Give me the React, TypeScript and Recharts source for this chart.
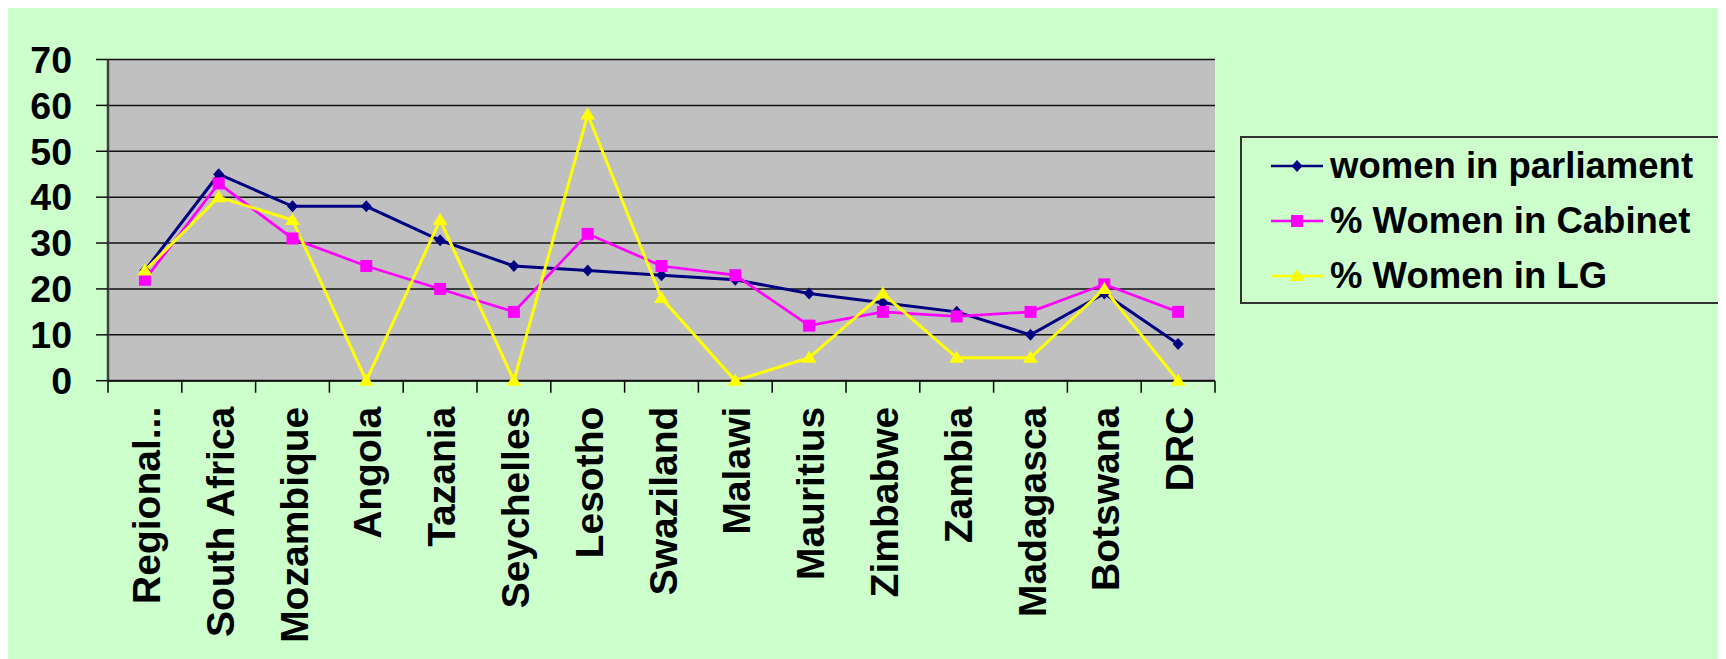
import React from 'react';
import { LineChart, Line, XAxis, YAxis, CartesianGrid, Legend } from 'recharts';

const categories = [
  'Regional...',
  'South Africa',
  'Mozambique',
  'Angola',
  'Tazania',
  'Seychelles',
  'Lesotho',
  'Swaziland',
  'Malawi',
  'Mauritius',
  'Zimbabwe',
  'Zambia',
  'Madagasca',
  'Botswana',
  'DRC',
];
const parliament = [24, 45, 38, 38, 30.6, 25, 24, 23, 22, 19, 17, 15, 10, 19, 8];
const cabinet = [22, 43, 31, 25, 20, 15, 32, 25, 23, 12, 15, 14, 15, 21, 15];
const localGov = [24, 40, 35, 0, 35, 0, 58, 18, 0, 5, 19, 5, 5, 20, 0];
const yTicks = [0, 10, 20, 30, 40, 50, 60, 70];

const data = categories.map((name, i) => ({
  name,
  parliament: parliament[i],
  cabinet: cabinet[i],
  lg: localGov[i],
}));

// layout
const W = 1719;
const H = 653;
const PLOT_LEFT = 101;
const PLOT_RIGHT = 1208;
const PLOT_TOP = 53.5;
const PLOT_BOTTOM = 374.7;
const HALF = (PLOT_RIGHT - PLOT_LEFT) / categories.length / 2;
const FONT = '"Liberation Sans", Arial, sans-serif';

const Diamond = ({ cx, cy }: any) => (
  <polygon points={`${cx},${cy - 6} ${cx + 5.5},${cy} ${cx},${cy + 6} ${cx - 5.5},${cy}`} fill="#000080" />
);
const Square = ({ cx, cy }: any) => <rect x={cx - 6} y={cy - 6} width={12} height={12} fill="#FF00FF" />;
const Triangle = ({ cx, cy }: any) => (
  <polygon points={`${cx},${cy - 7} ${cx + 7.5},${cy + 5} ${cx - 7.5},${cy + 5}`} fill="#FFFF00" />
);

const series = [
  { key: 'parliament', name: 'women in parliament', color: '#000080', width: 3, Mark: Diamond },
  { key: 'cabinet', name: '% Women in Cabinet', color: '#FF00FF', width: 2.7, Mark: Square },
  { key: 'lg', name: '% Women in LG', color: '#FFFF00', width: 3, Mark: Triangle },
];

function XTick(props: any) {
  const { x, payload, index } = props;
  const last = index === categories.length - 1;
  return (
    <g>
      <line x1={x - HALF} x2={x - HALF} y1={PLOT_BOTTOM} y2={PLOT_BOTTOM + 12} stroke="#000" strokeWidth={1.5} />
      {last && (
        <line x1={x + HALF} x2={x + HALF} y1={PLOT_BOTTOM} y2={PLOT_BOTTOM + 12} stroke="#000" strokeWidth={1.5} />
      )}
      <text
        transform={`translate(${x + 15},${PLOT_BOTTOM + 26}) rotate(-90)`}
        textAnchor="end"
        fontSize={39}
        fontWeight="bold"
        fontFamily={FONT}
        fill="#000"
      >
        {payload.value}
      </text>
    </g>
  );
}

// keep the series order (the library sorts legend items by name)
function LegendBox({ payload }: any) {
  const shown = series.filter((s) => (payload || []).some((p: any) => p.dataKey === s.key));
  return (
    <div
      style={{
        width: 481,
        height: 168,
        border: '2px solid #333',
        boxSizing: 'border-box',
        paddingTop: 1,
        fontFamily: FONT,
      }}
    >
      {shown.map((s) => {
        const M = s.Mark;
        return (
          <div key={s.key} style={{ height: 55, display: 'flex', alignItems: 'center' }}>
            <svg width={88} height={30} style={{ flex: 'none' }}>
              <line x1={29} x2={81} y1={15} y2={15} stroke={s.color} strokeWidth={2.5} />
              <M cx={55} cy={15} />
            </svg>
            <span style={{ fontSize: 36.5, fontWeight: 'bold', color: '#000', whiteSpace: 'nowrap' }}>{s.name}</span>
          </div>
        );
      })}
    </div>
  );
}

export default function App() {
  return (
    <div style={{ marginLeft: -1, marginTop: -2, width: W, height: H, background: '#CCFFCC', fontFamily: FONT }}>
      <LineChart
        width={W}
        height={H}
        data={data}
        margin={{ top: PLOT_TOP, right: W - PLOT_RIGHT, bottom: 0, left: 0 }}
      >
        <CartesianGrid vertical={false} fill="#C0C0C0" stroke="#111" strokeWidth={1.5} />
        <XAxis
          dataKey="name"
          interval={0}
          padding={{ left: HALF, right: HALF }}
          height={H - PLOT_BOTTOM}
          tick={<XTick />}
          tickLine={false}
          axisLine={{ stroke: '#111', strokeWidth: 2 }}
        />
        <XAxis
          xAxisId="top"
          dataKey="name"
          orientation="top"
          height={0}
          tick={false}
          tickLine={false}
          axisLine={{ stroke: '#808080', strokeWidth: 2.5 }}
        />
        <YAxis
          width={PLOT_LEFT}
          domain={[0, 70]}
          ticks={yTicks}
          interval={0}
          tickSize={12}
          tickMargin={24}
          tickLine={{ stroke: '#111', strokeWidth: 1.5 }}
          axisLine={{ stroke: '#404040', strokeWidth: 2.5 }}
          tick={{ fontSize: 37.5, fontWeight: 'bold', fill: '#000', fontFamily: FONT }}
        />
        <YAxis
          yAxisId="right"
          orientation="right"
          width={0}
          domain={[0, 70]}
          tick={false}
          tickLine={false}
          axisLine={{ stroke: '#808080', strokeWidth: 2.5 }}
        />
        {series.map((s) => (
          <Line
            key={s.key}
            type="linear"
            dataKey={s.key}
            name={s.name}
            stroke={s.color}
            strokeWidth={s.width}
            dot={(p: any) => <s.Mark key={`${s.key}-${p.index}`} cx={p.cx} cy={p.cy} />}
            activeDot={false}
            isAnimationActive={false}
          />
        ))}
        <Legend
          layout="vertical"
          align="center"
          verticalAlign="middle"
          content={<LegendBox />}
          wrapperStyle={{ left: 1233, top: 129.7, width: 481, height: 168, margin: 0 }}
        />
      </LineChart>
    </div>
  );
}
